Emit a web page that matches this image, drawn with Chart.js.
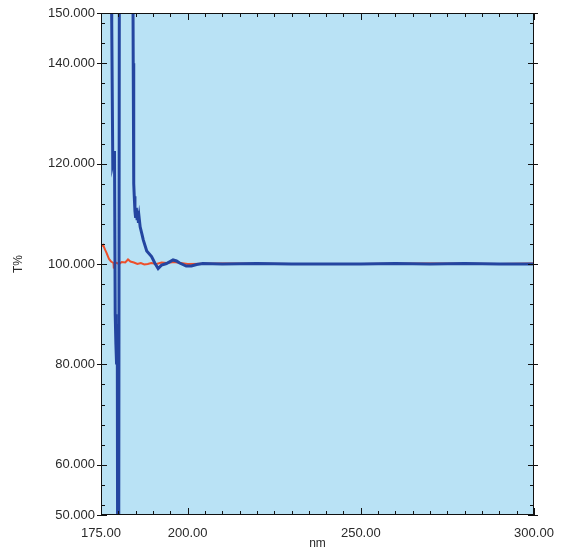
<!DOCTYPE html>
<html>
<head>
<meta charset="utf-8">
<script src="https://cdn.jsdelivr.net/npm/chart.js@4/dist/chart.umd.min.js"></script>
<style>
  html, body { margin: 0; padding: 0; background: #fff; }
  #wrap { width: 563px; height: 551px; }
</style>
</head>
<body>
<div id="wrap"><canvas id="chart" width="563" height="551"></canvas></div>
<script>
// ================= DATA =================
// blue trace (nm, T%)
const blueNm = [175.0, 177.9, 178.1, 178.4, 178.7, 178.9, 179.1, 179.3, 179.5, 179.7, 179.8, 180.1, 180.3, 180.6, 184.2, 184.3, 184.45, 184.6, 184.8, 185.0, 185.2, 185.4, 185.6, 185.8, 186.0, 186.3, 186.8, 187.2, 188.2, 189.6, 190.6, 191.5, 192.5, 193.9, 195.8, 196.8, 197.7, 199.6, 201.1, 202.6, 204.4, 210, 220, 230, 240, 250, 260, 270, 280, 290, 300];
const blueT  = [175, 160, 148, 120, 121, 122.5, 90, 84, 80, 88, 40, 30, 160, 165, 160, 140, 116, 113.5, 110.5, 109.2, 111.2, 109.0, 110.6, 108.2, 109.3, 107.4, 106.0, 104.8, 102.6, 101.5, 100.1, 99.1, 99.8, 100.1, 100.8, 100.6, 100.2, 99.6, 99.6, 99.9, 100.1, 100.0, 100.1, 100.0, 100.0, 100.0, 100.1, 100.0, 100.1, 100.0, 100.0];

// orange trace (nm, T%)
const orangeNm = [175.0, 175.6, 176.2, 176.6, 177.3, 177.9, 178.6, 178.7, 179.0, 179.6, 180.2, 181.0, 182.0, 182.8, 183.5, 184.5, 185.5, 186.5, 187.5, 188.5, 189.5, 191, 192.5, 194, 196, 198, 200, 210, 230, 250, 270, 290, 300];
const orangeT  = [103.5, 103.8, 102.8, 102.2, 101.0, 100.5, 100.2, 99.1, 100.3, 100.2, 100.0, 100.4, 100.3, 100.9, 100.5, 100.3, 100.0, 100.2, 99.9, 100.0, 100.2, 100.0, 100.3, 100.2, 100.4, 100.2, 100.0, 100.1, 100.0, 100.0, 100.1, 100.0, 100.1];

// axis ticks
const xTicks = [175, 200, 250, 300];
const yTicks = [50, 60, 80, 100, 120, 140, 150];
const xMinor = [180, 185, 190, 195, 205, 210, 215, 220, 225, 230, 235, 240, 245, 255, 260, 265, 270, 275, 280, 285, 290, 295];
const yMinor = [52, 56, 64, 68, 72, 76, 84, 88, 92, 96, 104, 108, 112, 116, 124, 128, 132, 136, 144, 148];

const toPts = (xs, ys) => xs.map((x, i) => ({ x: x, y: ys[i] }));

// ================= FRAME PLUGIN =================
const frame = {
  id: "frame",
  beforeDraw(chart) {
    const a = chart.chartArea;
    const c = chart.ctx;
    c.save();
    c.fillStyle = "#b9e2f5";
    c.fillRect(a.left, a.top, a.right - a.left, a.bottom - a.top);
    c.restore();
  },
  afterDraw(chart) {
    const a = chart.chartArea;
    const c = chart.ctx;
    const xs = chart.scales.x;
    const ys = chart.scales.y;
    c.save();
    c.strokeStyle = "#111";
    c.lineWidth = 1;
    c.strokeRect(a.left + 0.5, a.top + 0.5, a.right - a.left - 1, a.bottom - a.top - 1);
    c.beginPath();
    // x ticks, bottom and top
    xTicks.forEach(v => {
      const p = Math.round(xs.getPixelForValue(v)) + 0.5;
      c.moveTo(p, a.bottom); c.lineTo(p, a.bottom - 7);
      c.moveTo(p, a.top); c.lineTo(p, a.top + 7);
    });
    xMinor.forEach(v => {
      const p = Math.round(xs.getPixelForValue(v)) + 0.5;
      c.moveTo(p, a.bottom); c.lineTo(p, a.bottom - 4);
      c.moveTo(p, a.top); c.lineTo(p, a.top + 4);
    });
    // y ticks, left and right
    yTicks.forEach(v => {
      const p = Math.round(ys.getPixelForValue(v)) + 0.5;
      c.moveTo(a.left - 4, p); c.lineTo(a.left + 6, p);
      c.moveTo(a.right + 4, p); c.lineTo(a.right - 6, p);
    });
    yMinor.forEach(v => {
      const p = Math.round(ys.getPixelForValue(v)) + 0.5;
      c.moveTo(a.left, p); c.lineTo(a.left + 4, p);
      c.moveTo(a.right, p); c.lineTo(a.right - 4, p);
    });
    c.stroke();
    c.restore();
  }
};

// ================= CHART =================
const ctx = document.getElementById("chart").getContext("2d");

new Chart(ctx, {
  type: "line",
  data: {
    datasets: [
      {
        label: "sample",
        data: toPts(blueNm, blueT),
        borderColor: "#2445a0",
        borderWidth: 3,
        pointRadius: 0,
        tension: 0
      },
      {
        label: "reference",
        data: toPts(orangeNm, orangeT),
        borderColor: "#ee4f2a",
        borderWidth: 2,
        pointRadius: 0,
        tension: 0
      }
    ]
  },
  options: {
    responsive: false,
    animation: false,
    layout: { padding: { top: 13, right: 29, left: 0, bottom: 0 } },
    plugins: {
      legend: { display: false },
      tooltip: { enabled: false }
    },
    scales: {
      x: {
        type: "linear",
        min: 175,
        max: 300,
        grid: { display: false, drawTicks: false },
        border: { display: false },
        afterBuildTicks: s => { s.ticks = xTicks.map(v => ({ value: v })); },
        afterFit: s => { s.height = 36; s.paddingLeft = 0; s.paddingRight = 0; },
        ticks: {
          padding: 11,
          color: "#2a2a2a",
          font: { family: "Liberation Sans", size: 13 },
          maxRotation: 0,
          callback: v => v.toFixed(2)
        },
        title: {
          display: true,
          text: "nm",
          color: "#2a2a2a",
          font: { family: "Liberation Sans", size: 12 },
          padding: { top: 0, bottom: 0 }
        }
      },
      y: {
        min: 50,
        max: 150,
        grid: { display: false, drawTicks: false },
        border: { display: false },
        afterBuildTicks: s => { s.ticks = yTicks.map(v => ({ value: v })); },
        afterFit: s => { s.width = 101; s.paddingTop = 0; s.paddingBottom = 0; },
        ticks: {
          padding: 6,
          color: "#2a2a2a",
          font: { family: "Liberation Sans", size: 13 },
          callback: v => v.toFixed(3)
        },
        title: {
          display: true,
          text: "T%",
          color: "#2a2a2a",
          font: { family: "Liberation Sans", size: 12 },
          padding: { top: 11, bottom: 0 }
        }
      }
    }
  },
  plugins: [frame]
});
</script>
</body>
</html>
